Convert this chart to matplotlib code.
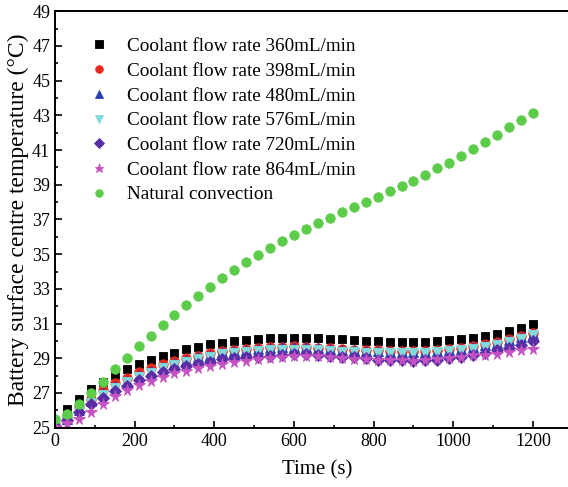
import numpy as np
import matplotlib
matplotlib.use('Agg')
import matplotlib.pyplot as plt
from matplotlib.ticker import MultipleLocator

####DATA####
time_s = np.arange(0, 1201, 30)

flow_360 = [25.4, 26.10, 26.67, 27.21, 27.65, 28.02, 28.38, 28.69, 28.90, 29.15, 29.32, 29.52, 29.66, 29.81,
            29.90, 30.00, 30.05, 30.11, 30.15, 30.19, 30.19, 30.19, 30.15, 30.11, 30.09, 30.05, 30.02, 29.98,
            29.94, 29.94, 29.92, 29.94, 29.98, 30.04, 30.11, 30.19, 30.29, 30.42, 30.57, 30.75, 30.96]
flow_398 = [25.2, 25.65, 26.18, 26.67, 27.17, 27.58, 27.88, 28.19, 28.42, 28.65, 28.84, 29.00, 29.13, 29.28,
            29.44, 29.50, 29.55, 29.59, 29.63, 29.67, 29.69, 29.67, 29.61, 29.57, 29.53, 29.50, 29.48, 29.47,
            29.44, 29.43, 29.42, 29.43, 29.48, 29.55, 29.61, 29.71, 29.82, 29.96, 30.09, 30.27, 30.48]
flow_480 = [25.15, 25.5, 26.02, 26.52, 26.98, 27.40, 27.72, 28.03, 28.28, 28.52, 28.72, 28.90, 29.05, 29.20,
            29.36, 29.44, 29.50, 29.55, 29.60, 29.64, 29.68, 29.64, 29.58, 29.53, 29.49, 29.45, 29.43, 29.42,
            29.39, 29.38, 29.37, 29.38, 29.43, 29.50, 29.56, 29.66, 29.77, 29.91, 30.04, 30.22, 30.42]
flow_576 = [25.1, 25.4, 25.92, 26.42, 26.88, 27.30, 27.62, 27.93, 28.18, 28.42, 28.62, 28.80, 28.95, 29.10,
            29.24, 29.31, 29.37, 29.42, 29.46, 29.49, 29.50, 29.49, 29.46, 29.42, 29.38, 29.35, 29.33, 29.32,
            29.31, 29.30, 29.30, 29.31, 29.35, 29.41, 29.47, 29.56, 29.66, 29.79, 29.92, 30.10, 30.33]
flow_720 = [25.1, 25.44, 25.90, 26.35, 26.71, 27.13, 27.40, 27.73, 27.96, 28.21, 28.40, 28.56, 28.69, 28.79,
            28.94, 29.00, 29.06, 29.10, 29.13, 29.19, 29.23, 29.23, 29.19, 29.13, 29.10, 29.06, 29.00, 28.92,
            28.90, 28.88, 28.84, 28.88, 28.92, 29.00, 29.08, 29.21, 29.32, 29.46, 29.59, 29.77, 29.98]
flow_864 = [25.05, 25.29, 25.52, 25.92, 26.38, 26.81, 27.16, 27.44, 27.71, 27.90, 28.14, 28.27, 28.42, 28.56,
            28.67, 28.77, 28.86, 28.94, 29.00, 29.06, 29.13, 29.13, 29.13, 29.06, 29.00, 28.98, 28.98, 28.92,
            28.90, 28.88, 28.86, 28.90, 28.95, 29.02, 29.10, 29.19, 29.19, 29.23, 29.35, 29.47, 29.55]
natural = [25.50, 25.79, 26.37, 27.02, 27.63, 28.37, 29.03, 29.69, 30.30, 30.92, 31.50, 32.05, 32.61, 33.13,
           33.61, 34.07, 34.53, 34.95, 35.33, 35.76, 36.09, 36.47, 36.78, 37.07, 37.43, 37.70, 38.01, 38.28,
           38.62, 38.92, 39.20, 39.55, 39.97, 40.26, 40.66, 41.08, 41.47, 41.85, 42.35, 42.72, 43.12]

labels = ['Coolant flow rate 360mL/min', 'Coolant flow rate 398mL/min', 'Coolant flow rate 480mL/min',
          'Coolant flow rate 576mL/min', 'Coolant flow rate 720mL/min', 'Coolant flow rate 864mL/min',
          'Natural convection']
y_ticks = np.arange(25, 50, 2)

####STYLE####
plt.rcParams['font.family'] = ['Liberation Serif', 'DejaVu Serif']

series = [flow_360, flow_398, flow_480, flow_576, flow_720, flow_864, natural]
markers = ['s', 'o', '^', 'v', 'D', '*', 'o']
colors = ['#000000', '#e8261c', '#2b3fae', '#80dcdc', '#5a2fa6', '#c452c2', '#5dcc4a']
sizes = [6.4, 6.8, 6.8, 6.8, 5.8, 8.4, 6.8]

####FIGURE####
fig = plt.figure(figsize=(5.68, 4.87), dpi=100)
ax = fig.add_axes([55 / 568, 59.3 / 487, 525 / 568, 416.4 / 487])

for y, m, c, s, lab in zip(series, markers, colors, sizes, labels):
    ax.plot(time_s, y, linestyle='none', marker=m, color=c, ms=s, mec=c, mew=0.6, label=lab)

ax.set_xlim(0, 1318)
ax.set_ylim(25, 49)
ax.xaxis.set_major_locator(MultipleLocator(200))
ax.xaxis.set_minor_locator(MultipleLocator(100))
ax.set_yticks(y_ticks)
ax.yaxis.set_minor_locator(MultipleLocator(1))
ax.tick_params(which='both', direction='in', labelsize=13, width=1.2)
ax.tick_params(which='major', length=5)
ax.tick_params(which='minor', length=2.5)
for sp in ax.spines.values():
    sp.set_linewidth(1.4)
ax.spines['right'].set_visible(False)

ax.set_xlabel('Time (s)', fontsize=15, labelpad=8)
ax.set_ylabel('Battery surface centre temperature (\u00b0C)', fontsize=17, labelpad=2)

ax.legend(loc='upper left', bbox_to_anchor=(0.05, 0.955), frameon=False, fontsize=13.8,
          handletextpad=1.0, labelspacing=0.38, borderaxespad=0, handlelength=1.0, markerscale=0.8)

fig.savefig('out.png', dpi=100)
